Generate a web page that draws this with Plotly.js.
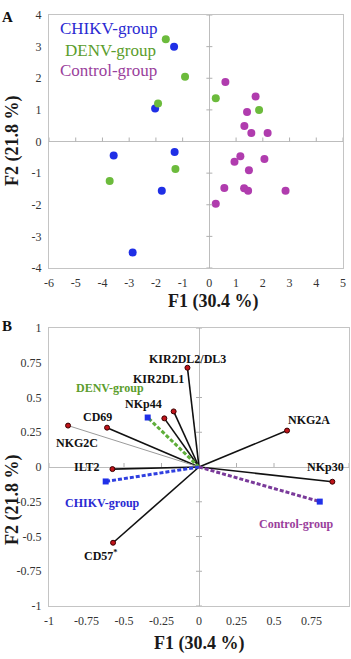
<!DOCTYPE html>
<html><head><meta charset="utf-8">
<script src="https://cdn.plot.ly/plotly-3.0.1.min.js"></script>
<style>html,body{margin:0;padding:0;background:#fff}#chart{width:351px;height:659px}</style>
</head><body><div id="chart"></div>
<script>
// ---- Panel A: PCA scores ----
const chikvF1 = [-1.32, -2.03, -3.58, -1.30, -1.78, -2.87];
const chikvF2 = [3.00, 1.04, -0.44, -0.33, -1.56, -3.51];
const denvF1 = [-1.63, -0.91, 0.24, -1.92, 1.86, -1.27, -3.73];
const denvF2 = [3.23, 2.05, 1.37, 1.20, 1.00, -0.87, -1.25];
const ctrlF1 = [0.60, 1.73, 1.41, 1.31, 1.57, 2.18, 1.16, 0.94, 2.06, 1.48, 0.56, 1.30, 1.45, 2.85, 0.24];
const ctrlF2 = [1.88, 1.42, 0.93, 0.49, 0.27, 0.27, -0.47, -0.64, -0.55, -0.91, -1.47, -1.48, -1.56, -1.56, -1.97];
const groupNames = ['CHIKV-group', 'DENV-group', 'Control-group'];
const ticksAx = [-6, -5, -4, -3, -2, -1, 0, 1, 2, 3, 4, 5];
const ticksAxLabels = ['-6', '-5', '-4', '-3', '-2', '-1', '0', '1', '2', '3', '4', '5'];
const ticksAy = [-4, -3, -2, -1, 0, 1, 2, 3, 4];
const ticksAyLabels = ['-4', '-3', '-2', '-1', '0', '1', '2', '3', '4'];

// ---- Panel B: loadings ----
const varNames = ['KIR2DL2/DL3', 'KIR2DL1', 'NKp44', 'CD69', 'NKG2C', 'ILT2', 'CD57<sup>*</sup>', 'NKG2A', 'NKp30'];
const varF1 = [-0.077, -0.169, -0.231, -0.613, -0.873, -0.577, -0.573, 0.587, 0.889];
const varF2 = [0.714, 0.400, 0.350, 0.283, 0.298, -0.015, -0.545, 0.262, -0.106];
const grpNamesB = ['DENV-group', 'CHIKV-group', 'Control-group'];
const grpF1 = [-0.342, -0.622, 0.805];
const grpF2 = [0.356, -0.104, -0.249];
const ticksB = [-1, -0.75, -0.5, -0.25, 0, 0.25, 0.5, 0.75, 1];
const ticksBlabels = ['-1', '-0.75', '-0.5', '-0.25', '0', '0.25', '0.5', '0.75', '1'];

// ---- styles ----
const SERIF = 'Liberation Serif, Times New Roman, serif';
const cBlue = '#1f2fe6', cGreen = '#6cbb3c', cMag = '#b03cae';
const txtBlue = '#2a2ad2', txtGreen = '#5b9d2c', txtMag = '#9a3f9c';
const varLineColor = ['#111', '#111', '#111', '#111', '#9a9a9a', '#111', '#111', '#111', '#111'];
const varLineWidth = [1.6, 1.6, 1.6, 1.6, 1, 1.6, 1.6, 1.6, 1.6];
const varLabelShift = [[0, 9], [-15, 32], [-21, 14], [-10, 11], [9, -17], [-25, 2], [-12, -13], [22, 11], [-7, 15]];
const grpLineColor = ['#5fae3a', '#2f3fe0', '#7a3a9a'];
const grpTextColor = [txtGreen, txtBlue, txtMag];
const grpLabelShift = [[-38, 30], [-3, -22], [-23, -22]];

const W = 351, H = 659;
const traces = [];
const dot = (c) => ({color: c, size: 8});
traces.push({x: chikvF1, y: chikvF2, mode: 'markers', marker: dot(cBlue), xaxis: 'x', yaxis: 'y', name: groupNames[0]});
traces.push({x: denvF1, y: denvF2, mode: 'markers', marker: dot(cGreen), xaxis: 'x', yaxis: 'y', name: groupNames[1]});
traces.push({x: ctrlF1, y: ctrlF2, mode: 'markers', marker: dot(cMag), xaxis: 'x', yaxis: 'y', name: groupNames[2]});

for (let i = 0; i < varNames.length; i++) {
  traces.push({x: [0, varF1[i]], y: [0, varF2[i]], mode: 'lines', line: {color: varLineColor[i], width: varLineWidth[i]}, xaxis: 'x2', yaxis: 'y2'});
}
for (let i = 0; i < grpNamesB.length; i++) {
  traces.push({x: [0, grpF1[i]], y: [0, grpF2[i]], mode: 'lines', line: {color: grpLineColor[i], width: 3, dash: '4px,2px'}, xaxis: 'x2', yaxis: 'y2'});
}
traces.push({x: varF1, y: varF2, mode: 'markers', marker: {color: '#c0141a', size: 5, line: {color: '#3a0000', width: 1}}, xaxis: 'x2', yaxis: 'y2'});
traces.push({x: grpF1, y: grpF2, mode: 'markers', marker: {color: '#2030e8', size: 6, symbol: 'square'}, xaxis: 'x2', yaxis: 'y2'});

const tickFont = {family: SERIF, size: 12, color: '#333'};
const axBase = {showgrid: false, showline: true, mirror: true, linecolor: '#c4c4c4', linewidth: 1,
  zeroline: true, zerolinecolor: '#bdbdbd', zerolinewidth: 1, ticks: '', tickfont: tickFont, fixedrange: true};

const shapes = [];
function addTicks(xr, yr, xt, yt) {
  xt.forEach(v => { if (v !== 0) shapes.push({type: 'line', xref: xr, yref: yr, ysizemode: 'pixel', yanchor: 0, x0: v, x1: v, y0: 0, y1: 4, line: {color: '#b0b0b0', width: 1}}); });
  yt.forEach(v => { if (v !== 0) shapes.push({type: 'line', xref: xr, yref: yr, xsizemode: 'pixel', xanchor: 0, y0: v, y1: v, x0: -3, x1: 3, line: {color: '#b0b0b0', width: 1}}); });
}
addTicks('x', 'y', ticksAx, ticksAy);
addTicks('x2', 'y2', ticksB, ticksB);

const ann = [];
const titleFont = {family: SERIF, size: 18, color: '#1a1a1a'};
function txt(x, y, text, font, extra) { ann.push(Object.assign({xref: 'paper', yref: 'paper', x: x / W, y: 1 - y / H, text: text, showarrow: false, font: font, xanchor: 'center', yanchor: 'middle'}, extra || {})); }
txt(7, 17, '<b>A</b>', {family: SERIF, size: 15, color: '#111'});
txt(7, 326, '<b>B</b>', {family: SERIF, size: 15, color: '#111'});
txt(213, 302, '<b>F1 (30.4 %)</b>', titleFont);
txt(199, 643, '<b>F1 (30.4 %)</b>', titleFont);
txt(12, 141, '<b>F2 (21.8 %)</b>', titleFont, {textangle: -90});
txt(12, 500, '<b>F2 (21.8 %)</b>', titleFont, {textangle: -90});
// legend of panel A
const legFont = (c) => ({family: SERIF, size: 17, color: c});
txt(58, 29, groupNames[0], legFont(txtBlue), {xanchor: 'left'});
txt(63, 50, groupNames[1], legFont(txtGreen), {xanchor: 'left'});
txt(58, 70, groupNames[2], legFont(txtMag), {xanchor: 'left'});
// panel B labels
const labFont = (c) => ({family: SERIF, size: 12, color: c});
for (let i = 0; i < varNames.length; i++) {
  ann.push({xref: 'x2', yref: 'y2', x: varF1[i], y: varF2[i], text: '<b>' + varNames[i] + '</b>', showarrow: false,
    xshift: varLabelShift[i][0], yshift: varLabelShift[i][1], font: labFont('#111'), xanchor: 'center', yanchor: 'middle'});
}
for (let i = 0; i < grpNamesB.length; i++) {
  ann.push({xref: 'x2', yref: 'y2', x: grpF1[i], y: grpF2[i], text: '<b>' + grpNamesB[i] + '</b>', showarrow: false,
    xshift: grpLabelShift[i][0], yshift: grpLabelShift[i][1], font: labFont(grpTextColor[i]), xanchor: 'center', yanchor: 'middle'});
}

const layout = {
  width: W, height: H, margin: {l: 0, r: 0, t: 0, b: 0}, showlegend: false,
  paper_bgcolor: '#fff', plot_bgcolor: '#fff',
  xaxis: Object.assign({}, axBase, {domain: [49 / W, 343 / W], range: [-6, 5], tickvals: ticksAx, ticktext: ticksAxLabels, anchor: 'y', ticklabelstandoff: 4}),
  yaxis: Object.assign({}, axBase, {domain: [1 - 268 / H, 1 - 15 / H], range: [-4, 4], tickvals: ticksAy, ticktext: ticksAyLabels, anchor: 'x', ticklabelstandoff: 4}),
  xaxis2: Object.assign({}, axBase, {domain: [49 / W, 349 / W], range: [-1, 1], tickvals: ticksB, ticktext: ticksBlabels, anchor: 'y2', ticklabelstandoff: 4}),
  yaxis2: Object.assign({}, axBase, {domain: [1 - 606 / H, 1 - 328 / H], range: [-1, 1], tickvals: ticksB, ticktext: ticksBlabels, anchor: 'x2', ticklabelstandoff: 4}),
  shapes: shapes, annotations: ann
};
Plotly.newPlot('chart', traces, layout, {displayModeBar: false, staticPlot: true});
</script></body></html>
